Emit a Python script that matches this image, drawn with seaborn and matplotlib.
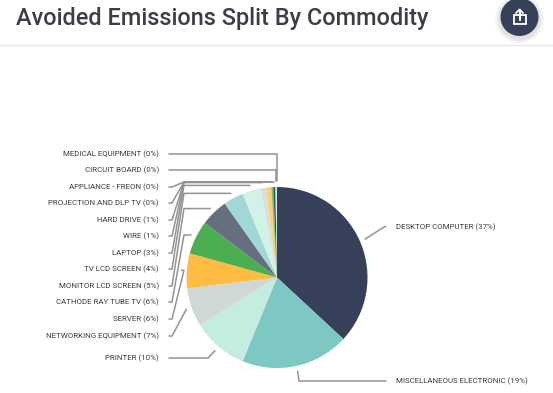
# Avoided emissions split by commodity - pie with leader lines
import numpy as np
import matplotlib
matplotlib.use('Agg')
import matplotlib.pyplot as plt
from matplotlib.patches import Circle, Rectangle
import seaborn as sns

labels = ['DESKTOP COMPUTER (37%)', 'MISCELLANEOUS ELECTRONIC (19%)', 'PRINTER (10%)',
          'NETWORKING EQUIPMENT (7%)', 'SERVER (6%)', 'CATHODE RAY TUBE TV (6%)',
          'MONITOR LCD SCREEN (5%)', 'TV LCD SCREEN (4%)', 'LAPTOP (3%)', 'WIRE (1%)',
          'HARD DRIVE (1%)', 'PROJECTION AND DLP TV (0%)', 'APPLIANCE - FREON (0%)',
          'CIRCUIT BOARD (0%)', 'MEDICAL EQUIPMENT (0%)']
values = [36.9, 19.3, 10.0, 6.9, 6.2, 6.0, 4.9, 3.6, 3.3, 1.0, 0.9, 0.35, 0.35, 0.15, 0.15]
colors = ['#364159', '#7DC8C3', '#C5EDDF', '#D0D8D5', '#FFBC42', '#4BAF51', '#666F80',
          '#9FD8D5', '#D2F1E7', '#DADFDD', '#FFCE70', '#6DBF72', '#3F4A60', '#8FCFCB', '#C5EDDF']
label_y = [226.5, 381, 358, 336, 319, 302, 286, 269, 253, 236, 220, 203, 187, 170, 153.5]

sns.set_theme(style='white')
plt.rcParams['font.family'] = ['Roboto', 'DejaVu Sans']

fig = plt.figure(figsize=(5.53, 3.93), dpi=100)
ax = fig.add_axes([0, 0, 1, 1])

# pie in pixel coords, y runs downward so -90 is the top
cx, cy, r = 277, 277.5, 90.5
ax.pie(values, colors=sns.color_palette(colors), center=(cx, cy), radius=r, startangle=-90,
       counterclock=True, frame=True, wedgeprops=dict(linewidth=0))
ax.set_xlim(0, 553)
ax.set_ylim(393, 0)
ax.set_aspect('auto')
ax.axis('off')

# leader lines end just outside the slice middle
total = sum(values)
mids = (np.cumsum(values) - np.array(values) / 2) / total * 2 * np.pi
line_c = '#939393'
for i, (lab, ly, m) in enumerate(zip(labels, label_y, mids)):
    px = cx + 96 * np.sin(m)
    py = cy - 96 * np.cos(m)
    if i < 2:
        ax.text(396, ly + 0.5, lab, fontsize=5.7, color='#3c3c3c', ha='left', va='center')
        ex = 385 if i == 0 else 299
        xs = [px, ex, 386]
        ys = [py, ly, ly]
    else:
        ax.text(159, ly + 0.5, lab, fontsize=5.7, color='#3c3c3c', ha='right', va='center')
        if i == 2:
            xs, ys = [169, 208, px], [ly, ly, py]
        elif i == 3:
            xs, ys = [169, 172, px], [ly, ly, py]
        elif i >= 13:
            bx = 276 + (i - 13)
            xs, ys = [169, bx, bx], [ly, ly, 181]
        else:
            top = max(py, 182)
            xs, ys = [169, 172, 184, px], [ly, ly, top, top]
    ax.plot(xs, ys, color=line_c, lw=1.1, solid_joinstyle='miter')

ax.text(16, 18, 'Avoided Emissions Split By Commodity', fontsize=16.9, color='#3a3f47',
        ha='left', va='center', fontweight='medium')
ax.plot([0, 553], [45, 45], color='#e6e6e6', lw=1)

# share button
for k in range(5):
    ax.add_patch(Circle((519.5, 19), 20.5 + k, color='#000000', alpha=0.025, lw=0))
ax.add_patch(Circle((519.5, 17), 19, color='#364159', lw=0))
ax.add_patch(Rectangle((513.5, 15), 12, 9, fill=False, ec='white', lw=1.3))
ax.plot([519.5, 519.5], [20, 10], color='white', lw=1.5)
ax.plot([516, 519.5, 523], [13, 9.5, 13], color='white', lw=1.3)

fig.savefig('out.png', dpi=100)
